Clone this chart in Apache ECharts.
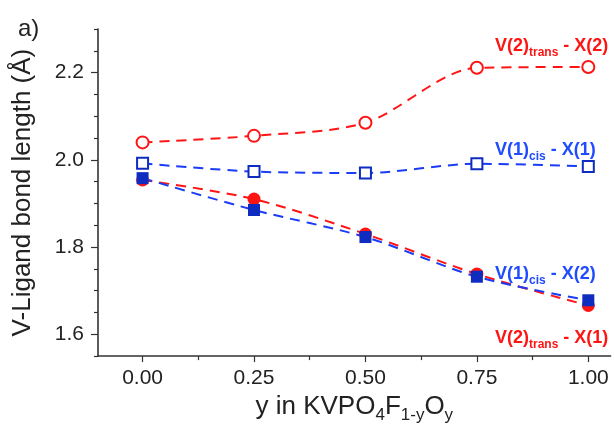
<!DOCTYPE html>
<html><head><meta charset="utf-8">
<script src="https://cdn.jsdelivr.net/npm/echarts@6/dist/echarts.min.js"></script>
<style>html,body{margin:0;padding:0;background:#fff}#c{width:614px;height:429px}</style>
</head><body><div id="c"></div>
<script>
// ---- data ----
const xValues   = [0, 0.25, 0.5, 0.75, 1.0];
const v2transX2 = [2.040, 2.055, 2.085, 2.211, 2.213];
const v1cisX1   = [1.992, 1.973, 1.970, 1.991, 1.985];
const v2transX1 = [1.954, 1.910, 1.830, 1.738, 1.666];
const v1cisX2   = [1.958, 1.885, 1.823, 1.732, 1.678];
const xMajorTicks = [0, 0.25, 0.5, 0.75, 1.0];
const xMinorTicks = [0.125, 0.375, 0.625, 0.875];
const yMajorTicks = [1.6, 1.8, 2.0, 2.2];
const yMinorTicks = [1.55, 1.65, 1.7, 1.75, 1.85, 1.9, 1.95, 2.05, 2.1, 2.15, 2.25, 2.3];

const FONT = 'Liberation Sans, Arial, sans-serif';
const RED = '#ff1414';
const BLUE_LINE = '#1a3cf5';
const BLUE_MARK = '#0f2cc0';
const BLUE_TEXT = '#1f4cff';
const DASH = [10, 7];

const pairs = arr => xValues.map((x, i) => [x, arr[i]]);

const chart = echarts.init(document.getElementById('c'), null, {renderer: 'canvas'});

function seriesLabel(main1, sub, main2, color, left, top) {
  return {
    type: 'text', left: left, top: top, z: 100,
    style: {
      text: '{m|' + main1 + '}{s|' + sub + '}{m|' + main2 + '}',
      rich: {
        m: {fontFamily: FONT, fontWeight: 'bold', fontSize: 18, fill: color, color: color, verticalAlign: 'bottom', lineHeight: 22, padding: [0, 0, 4, 0]},
        s: {fontFamily: FONT, fontWeight: 'bold', fontSize: 12, fill: color, color: color, verticalAlign: 'bottom', lineHeight: 14}
      }
    }
  };
}

const axisLineStyle = {color: '#333', width: 1.6};

chart.setOption({
  animation: false,
  backgroundColor: '#fff',
  grid: {left: 98, right: 3.4, top: 29, bottom: 68.4, containLabel: false},
  xAxis: [{
    type: 'value', min: -0.1, max: 1.05,
    axisLine: {show: true, onZero: false, lineStyle: axisLineStyle},
    axisTick: {show: true, inside: false, length: 6, lineStyle: {color: '#333', width: 1.2}, customValues: xMajorTicks},
    axisLabel: {show: true, customValues: xMajorTicks, formatter: v => v.toFixed(2), fontFamily: FONT, fontSize: 21, color: '#222', margin: 12},
    splitLine: {show: false},
    name: '{a|y in KVPO}{b|4}{a|F}{b|1-y}{a|O}{b|y}',
    nameLocation: 'middle', nameGap: 32,
    nameTextStyle: {
      rich: {
        a: {fontFamily: FONT, fontSize: 26, color: '#222', verticalAlign: 'bottom', lineHeight: 30, padding: [0, 0, 4, 0]},
        b: {fontFamily: FONT, fontSize: 17, color: '#222', verticalAlign: 'bottom', lineHeight: 19}
      }
    }
  }, {
    type: 'value', min: -0.1, max: 1.05, position: 'bottom',
    axisLine: {show: false, onZero: false},
    axisTick: {show: true, inside: false, length: 4, lineStyle: {color: '#333', width: 1.2}, customValues: xMinorTicks},
    axisLabel: {show: false},
    splitLine: {show: false}
  }],
  yAxis: [{
    type: 'value', min: 1.55, max: 2.3,
    axisLine: {show: true, onZero: false, lineStyle: axisLineStyle},
    axisTick: {show: true, inside: false, length: 7, lineStyle: {color: '#333', width: 1.2}, customValues: yMajorTicks},
    axisLabel: {show: true, customValues: yMajorTicks, formatter: v => v.toFixed(1), fontFamily: FONT, fontSize: 21, color: '#222', margin: 14},
    splitLine: {show: false},
    name: 'V-Ligand bond length (Å)',
    nameLocation: 'middle', nameGap: 62,
    nameTextStyle: {fontFamily: FONT, fontSize: 26, color: '#222'}
  }, {
    type: 'value', min: 1.55, max: 2.3, position: 'left',
    axisLine: {show: false, onZero: false},
    axisTick: {show: true, inside: false, length: 4, lineStyle: {color: '#333', width: 1.2}, customValues: yMinorTicks},
    axisLabel: {show: false},
    splitLine: {show: false}
  }],
  series: [
    {type: 'line', name: 'V(2)trans - X(2)', data: pairs(v2transX2), smooth: 0.3,
     symbol: 'emptyCircle', symbolSize: 12,
     itemStyle: {color: RED, borderColor: RED, borderWidth: 2},
     lineStyle: {color: RED, width: 2, type: DASH}},
    {type: 'line', name: 'V(1)cis - X(1)', data: pairs(v1cisX1), smooth: 0.3,
     symbol: 'emptyRect', symbolSize: 11,
     itemStyle: {color: BLUE_MARK, borderColor: BLUE_MARK, borderWidth: 2},
     lineStyle: {color: BLUE_LINE, width: 2, type: DASH}},
    {type: 'line', name: 'V(2)trans - X(1)', data: pairs(v2transX1), smooth: 0.3,
     symbol: 'circle', symbolSize: 13,
     itemStyle: {color: RED},
     lineStyle: {color: RED, width: 2, type: DASH}},
    {type: 'line', name: 'V(1)cis - X(2)', data: pairs(v1cisX2), smooth: 0.3,
     symbol: 'rect', symbolSize: 12,
     itemStyle: {color: BLUE_MARK},
     lineStyle: {color: BLUE_LINE, width: 2, type: DASH}}
  ],
  graphic: [
    {type: 'text', left: 18, top: 17, style: {text: 'a)', fontFamily: FONT, fontSize: 24, fill: '#222'}},
    seriesLabel('V(2)', 'trans', ' - X(2)', RED, 495, 37),
    seriesLabel('V(1)', 'cis', ' - X(1)', BLUE_TEXT, 495, 141),
    seriesLabel('V(1)', 'cis', ' - X(2)', BLUE_TEXT, 495, 265),
    seriesLabel('V(2)', 'trans', ' - X(1)', RED, 495, 329)
  ]
});
</script>
</body></html>
